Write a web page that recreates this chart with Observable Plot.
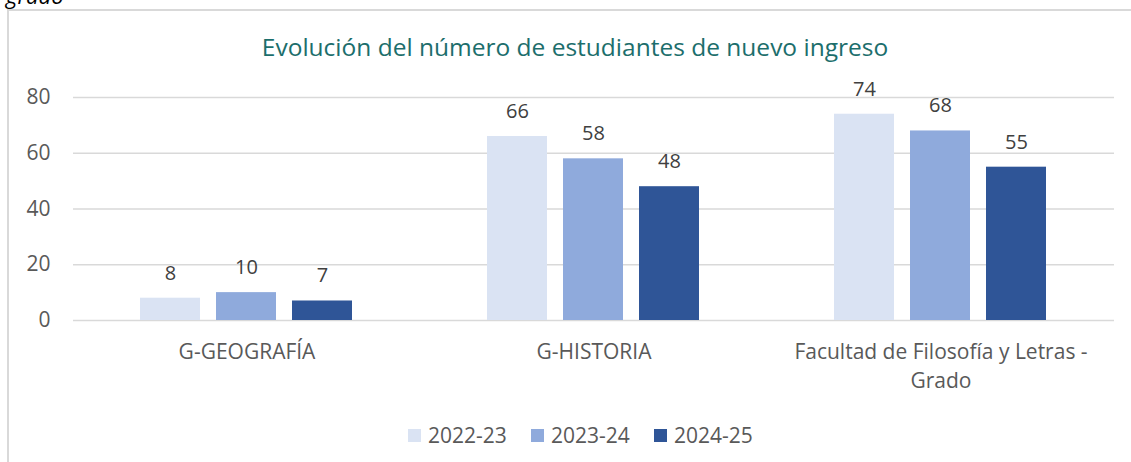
<!DOCTYPE html>
<html>
<head>
<meta charset="utf-8">
<script src="https://cdn.jsdelivr.net/npm/d3@7"></script>
<script src="https://cdn.jsdelivr.net/npm/@observablehq/plot@0.6"></script>
<style>
  html, body { margin: 0; padding: 0; background: #fff; overflow: hidden; }
  #wrap { position: relative; width: 1131px; height: 462px; font-family: "Open Sans", sans-serif; }
  #frame { position: absolute; left: 7px; top: 9px; width: 1200px; height: 500px;
           border-left: 2px solid #D9D9D9; border-top: 2px solid #D9D9D9; box-sizing: border-box; }
  #grado { position: absolute; left: 6px; top: -16px; font-size: 22px; line-height: 22px; font-style: italic; color: #000; white-space: nowrap; }
  #title { position: absolute; left: 0; width: 1150px; top: 30px; text-align: center; font-size: 24.5px; color: #1C6E6C; white-space: nowrap; }
  #chart { position: absolute; left: 0; top: 0; }
  #legend { position: absolute; top: 421px; left: 408px; display: flex; gap: 0; font-size: 21px; color: #595959; line-height: 28px; }
  .item { display: flex; align-items: center; width: 123px; }
  .sw { width: 13px; height: 13px; margin-right: 7px; }
</style>
</head>
<body>
<div id="wrap">
  <div id="frame"></div>
  <div id="grado">grado</div>
  <div id="chart"></div>
  <div id="title">Evolución del número de estudiantes de nuevo ingreso</div>
  <div id="legend"></div>
</div>
<script>
const categories = ["G-GEOGRAFÍA", "G-HISTORIA", "Facultad de Filosofía y Letras -\nGrado"];
const years = ["2022-23", "2023-24", "2024-25"];
const values2022 = [8, 66, 74];
const values2023 = [10, 58, 68];
const values2024 = [7, 48, 55];
const yTicks = [0, 20, 40, 60, 80];
const colors = ["#DAE3F3", "#8FAADC", "#2F5597"];

const series = [values2022, values2023, values2024];
const data = [];
categories.forEach((c, i) => {
  years.forEach((y, j) => data.push({cat: c, year: y, value: series[j][i]}));
});

const chart = Plot.plot({
  width: 1131,
  height: 462,
  marginTop: 97,
  marginBottom: 142,
  marginLeft: 72,
  marginRight: 16,
  style: {fontFamily: "Open Sans, sans-serif", fontSize: "21px", color: "#595959", background: "transparent"},
  fx: {domain: categories, padding: 0, label: null, axis: null},
  x: {domain: years, axis: null, paddingInner: 0.21, paddingOuter: 0.86},
  y: {domain: [0, 80], axis: null},
  color: {domain: years, range: colors},
  marks: [
    Plot.gridY(yTicks, {stroke: "#D9D9D9", strokeOpacity: 1, strokeWidth: 1.5}),
    Plot.axisY(yTicks, {tickSize: 0, tickPadding: 23, label: null, fontSize: 21, fill: "#595959"}),
    Plot.axisFx({anchor: "bottom", tickSize: 0, tickPadding: 18, lineHeight: 1.38, label: null, fontSize: 21, fill: "#595959"}),
    Plot.barY(data, {fx: "cat", x: "year", y: "value", fill: "year"}),
    Plot.text(data, {fx: "cat", x: "year", y: "value", text: d => String(d.value), dy: -25, fontSize: 20, fill: "#404040", lineAnchor: "middle"})
  ]
});
document.getElementById("chart").appendChild(chart);

const legend = document.getElementById("legend");
years.forEach((y, i) => {
  const it = document.createElement("div");
  it.className = "item";
  const sw = document.createElement("div");
  sw.className = "sw";
  sw.style.background = colors[i];
  const t = document.createElement("span");
  t.textContent = y;
  it.appendChild(sw);
  it.appendChild(t);
  legend.appendChild(it);
});
</script>
</body>
</html>
